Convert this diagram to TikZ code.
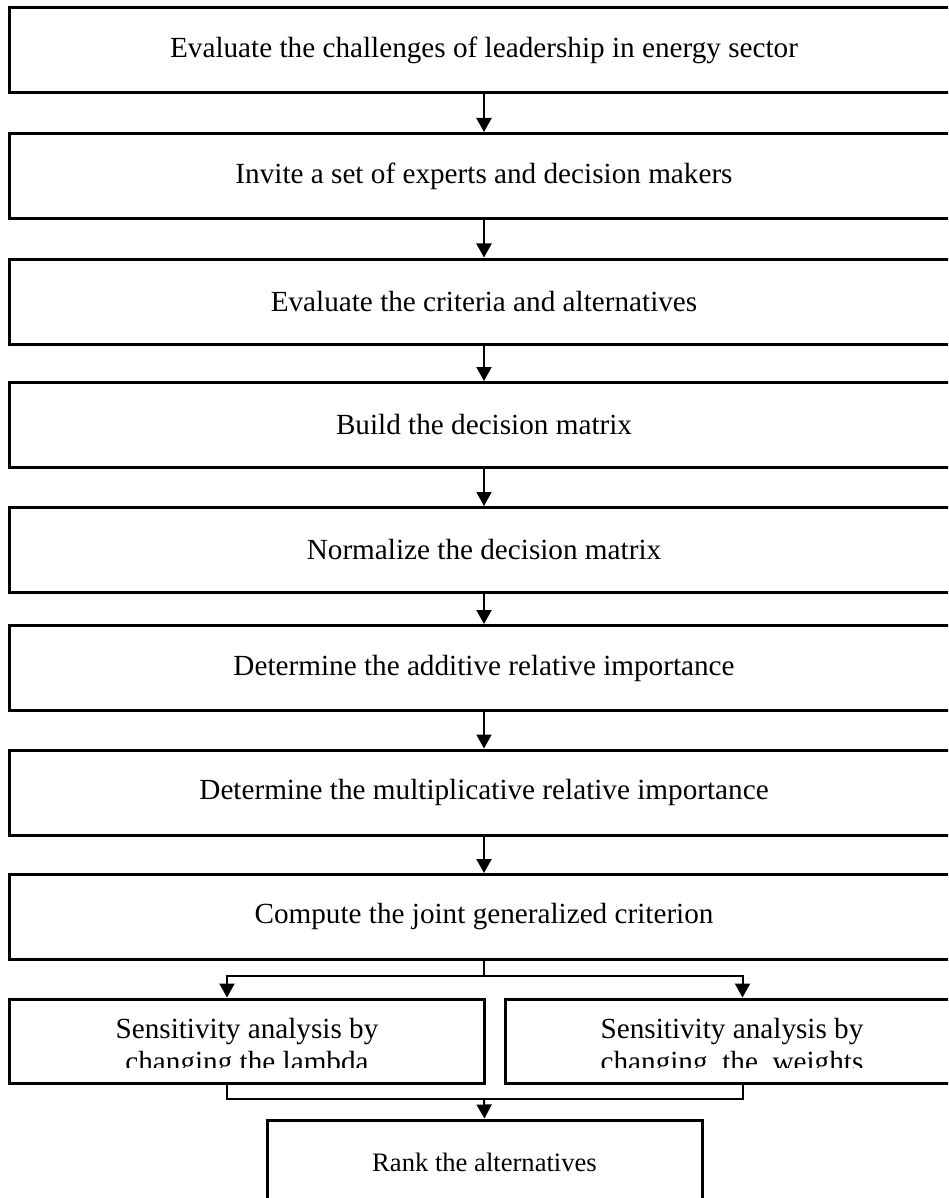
\documentclass[tikz,border=0pt]{standalone}
\usepackage{fontspec}
\setmainfont{Liberation Serif}
\usetikzlibrary{arrows.meta}
\tikzset{
  stepbox/.style = {draw, line width = 1.5pt, minimum width = 475pt, minimum height = 42.5pt,
    inner sep = 0pt, font = \fontsize{14.6}{17}\selectfont},
  halfbox/.style = {draw, line width = 1.5pt, minimum width = 237.5pt, minimum height = 42pt, inner sep = 0pt},
  rankbox/.style = {draw, line width = 1.5pt, minimum width = 217.5pt, minimum height = 42.5pt,
    inner sep = 0pt, font = \fontsize{13.3}{16}\selectfont},
  halftext/.style = {align = center, inner sep = 0pt, font = \fontsize{14.6}{16.5}\selectfont},
  flow/.style = {-{Triangle[length = 7pt, width = 7.5pt]}, line width = 1pt},
  link/.style = {line width = 1pt}
}
\begin{document}
\begin{tikzpicture}[x = 0.5pt, y = -0.5pt]
	\clip (0, 0) rectangle (948, 1198);
	
	% main steps
	\node[stepbox] (challenges) at (484, 50.5) {Evaluate the challenges of leadership in energy sector};
	\node[stepbox] (experts) at (484, 176) {Invite a set of experts and decision makers};
	\node[stepbox] (criteria) at (484, 301.5) {Evaluate the criteria and alternatives};
	\node[stepbox] (build) at (484, 425) {Build the decision matrix};
	\node[stepbox] (normalize) at (484, 550) {Normalize the decision matrix};
	\node[stepbox] (additive) at (484, 668) {Determine the additive relative importance};
	\node[stepbox] (multiplicative) at (484, 792.5) {Determine the multiplicative relative importance};
	\node[stepbox] (joint) at (484, 917) {Compute the joint generalized criterion};
	
	% sensitivity boxes
	\node[halfbox] (lambda) at (246.5, 1041) {};
	\node[halfbox] (weights) at (742.5, 1041) {};
	\begin{scope}
		\clip (0, 990) rectangle (948, 1067);
		\node[halftext] (lambdatext) at (247, 1048) {Sensitivity analysis by\\changing the lambda};
		\node[halftext] (weightstext) at (732, 1048) {Sensitivity analysis by\\changing\ \ the\ \ weights};
	\end{scope}
	
	% final step
	\node[rankbox] (rank) at (484.5, 1162.5) {Rank the alternatives};
	
	% arrows
	\draw[flow] (challenges) -- (experts);
	\draw[flow] (experts) -- (criteria);
	\draw[flow] (criteria) -- (build);
	\draw[flow] (build) -- (normalize);
	\draw[flow] (normalize) -- (additive);
	\draw[flow] (additive) -- (multiplicative);
	\draw[flow] (multiplicative) -- (joint);
	
	% fork and merge
	\coordinate (fork) at (484, 976);
	\coordinate (merge) at (484, 1099);
	\draw[link] (joint.south) -- (fork);
	\draw[flow] (fork) -| ([xshift = -9.75pt]lambda.north);
	\draw[flow] (fork) -| (weights.north);
	\draw[link] ([xshift = -9.75pt]lambda.south) |- (merge) -| (weights.south);
	\draw[flow] (merge) -- (rank.north);
	
\end{tikzpicture}
\end{document}
